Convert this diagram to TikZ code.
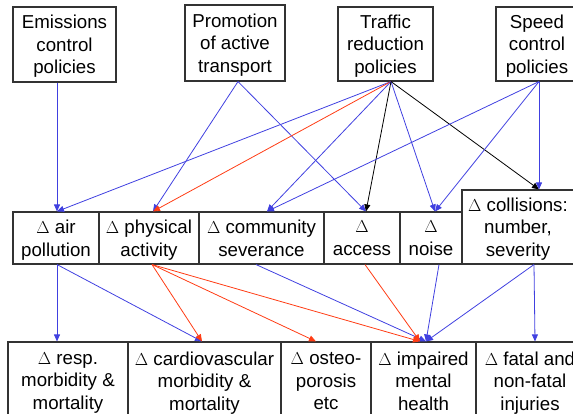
\documentclass[tikz,border=0pt]{standalone}
\usepackage{fontspec}
\setmainfont{Liberation Sans}
\usetikzlibrary{arrows.meta}

\definecolor{linkblue}{RGB}{64,64,224}
\definecolor{linkred}{RGB}{255,60,20}

\begin{document}
\begin{tikzpicture}[x=1pt, y=-1pt,
    box/.style={draw=black!80, line width=1.1pt, rectangle, align=center, inner sep=0pt,
      font=\fontsize{18.7}{22.5}\selectfont, text depth=-2pt},
    link/.style={-{Triangle[length=7pt, width=6pt]}, line width=0.8pt}]
  \useasboundingbox (0,0) rectangle (573,414);
  \clip (0,0) rectangle (573,414);

  % policies
  \node[box, minimum width=103pt, minimum height=75pt] (emis) at (64.5, 44.5) {Emissions\\control\\policies};
  \node[box, minimum width=100pt, minimum height=76pt] (promo) at (235, 43) {Promotion\\of active\\transport};
  \node[box, minimum width=95pt, minimum height=74pt] (traffic) at (385.5, 44) {Traffic\\reduction\\policies};
  \node[box, minimum width=82pt, minimum height=74pt] (speed) at (537, 44) {Speed\\control\\policies};

  % intermediate changes
  \node[box, minimum width=86pt, minimum height=52pt] (air) at (56, 238) {$\Delta$ air\\pollution};
  \node[box, minimum width=100pt, minimum height=52pt] (phys) at (149, 238) {$\Delta$ physical\\activity};
  \node[box, minimum width=125pt, minimum height=52pt] (comm) at (261.5, 238) {$\Delta$ community\\severance};
  \node[box, minimum width=76pt, minimum height=52pt] (access) at (362, 238) {$\Delta$\\access};
  \node[box, minimum width=62pt, minimum height=52pt] (noise) at (431, 238) {$\Delta$\\noise};
  \node[box, minimum width=112pt, minimum height=74pt] (coll) at (518, 227) {$\Delta$ collisions:\\number,\\severity};

  % health outcomes
  \node[box, minimum width=120pt, minimum height=78pt] (resp) at (68, 381) {$\Delta$ resp.\\morbidity \&\\mortality};
  \node[box, minimum width=153pt, minimum height=78pt] (cardio) at (204.5, 381) {$\Delta$ cardiovascular\\morbidity \&\\mortality};
  \node[box, minimum width=90pt, minimum height=78pt] (osteo) at (326, 381) {$\Delta$ osteo-\\porosis\\etc};
  \node[box, minimum width=105pt, minimum height=78pt] (mental) at (423.5, 381) {$\Delta$ impaired\\mental\\health};
  \node[box, minimum width=108pt, minimum height=78pt] (fatal) at (530, 381) {$\Delta$ fatal and\\non-fatal\\injuries};

  % ports
  \coordinate (emis-out) at ([xshift=-7.5pt]emis.south);
  \coordinate (promo-out) at ([xshift=3pt]promo.south);
  \coordinate (traffic-out) at ([xshift=5.5pt]traffic.south);
  \coordinate (speed-out) at ([xshift=2pt]speed.south);

  \coordinate (air-in) at ([xshift=1pt]air.north);
  \coordinate (phys-in) at ([xshift=4pt]phys.north);
  \coordinate (comm-in) at ([xshift=5.5pt]comm.north);
  \coordinate (access-in) at ([xshift=4pt]access.north);
  \coordinate (noise-in) at ([xshift=4pt]noise.north);
  \coordinate (coll-in) at ([xshift=21pt]coll.north);

  \coordinate (air-out) at ([xshift=1pt]air.south);
  \coordinate (phys-out) at ([xshift=3pt]phys.south);
  \coordinate (comm-out) at ([xshift=-5.5pt]comm.south);
  \coordinate (access-out) at ([xshift=3pt]access.south);
  \coordinate (noise-out) at ([xshift=8pt]noise.south);
  \coordinate (coll-out) at ([xshift=16pt]coll.south);

  \coordinate (resp-in) at ([xshift=-11pt]resp.north);
  \coordinate (cardio-in) at ([xshift=-2.5pt]cardio.north);
  \coordinate (osteo-in) at ([xshift=-10pt]osteo.north);
  \coordinate (mental-in-red) at ([xshift=-3.5pt]mental.north);
  \coordinate (mental-in-blue) at ([xshift=2.5pt]mental.north);
  \coordinate (fatal-in) at ([xshift=5pt]fatal.north);

  % policies -> changes
  \draw[link, linkblue] (emis-out) -- (air-in);
  \draw[link, linkblue] (promo-out) -- (phys-in);
  \draw[link, linkblue] (promo-out) -- (access-in);
  \draw[link, linkblue] (traffic-out) -- (air-in);
  \draw[link, linkred] (traffic-out) -- (phys-in);
  \draw[link, linkblue] (traffic-out) -- (comm-in);
  \draw[link, black] (traffic-out) -- (access-in);
  \draw[link, linkblue] (traffic-out) -- (noise-in);
  \draw[link, black] (traffic-out) -- (coll-in);
  \draw[link, linkblue] (speed-out) -- (comm-in);
  \draw[link, linkblue] (speed-out) -- (noise-in);
  \draw[link, linkblue] (speed-out) -- (coll-in);

  % changes -> outcomes
  \draw[link, linkblue] (air-out) -- (resp-in);
  \draw[link, linkblue] (air-out) -- (cardio-in);
  \draw[link, linkred] (phys-out) -- (cardio-in);
  \draw[link, linkred] (phys-out) -- (osteo-in);
  \draw[link, linkred] (phys-out) -- (mental-in-red);
  \draw[link, linkblue] (comm-out) -- (mental-in-blue);
  \draw[link, linkred] (access-out) -- (mental-in-red);
  \draw[link, linkblue] (noise-out) -- (mental-in-blue);
  \draw[link, linkblue] (coll-out) -- (mental-in-blue);
  \draw[link, linkblue] (coll-out) -- (fatal-in);
\end{tikzpicture}
\end{document}
